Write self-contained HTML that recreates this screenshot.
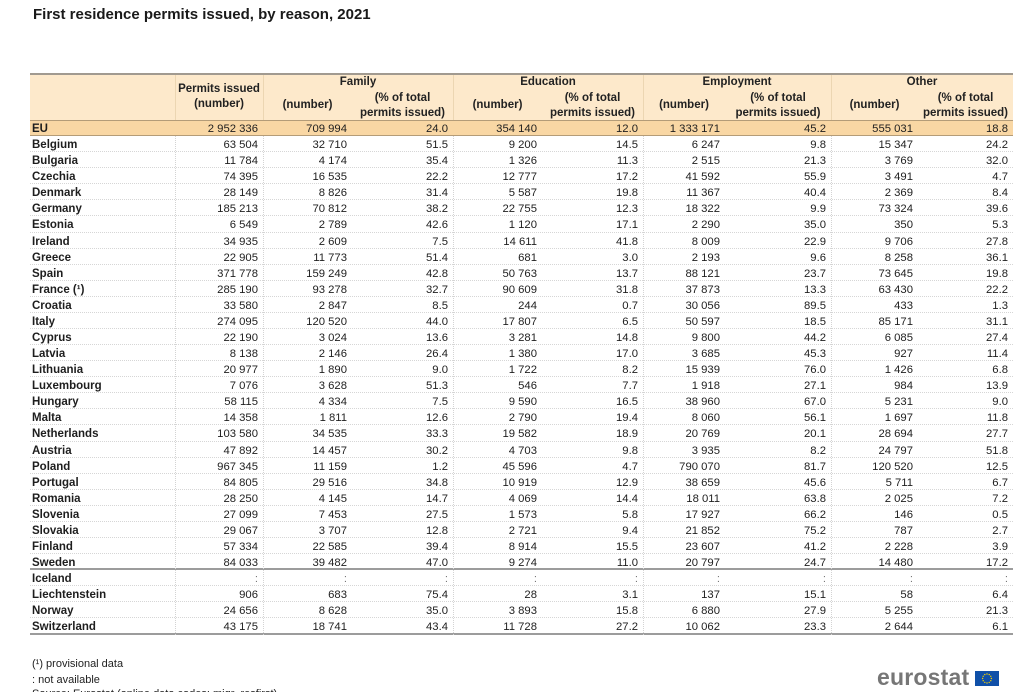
<!DOCTYPE html>
<html><head><meta charset="utf-8">
<style>
*{margin:0;padding:0;box-sizing:border-box}
html,body{width:1024px;height:692px;background:#fff;overflow:hidden;position:relative;font-family:"Liberation Sans",Arial,sans-serif;color:#1e1e1e}
.title{position:absolute;left:33px;top:6px;font-size:15px;font-weight:bold;line-height:18px;color:#1a1a1a}
.hdr{position:absolute;left:30px;top:73px;width:983px;height:47px;background:#fde9cb;border-top:2px solid #a19a90}
.hl{position:absolute;font-size:11.5px;font-weight:bold;text-align:center;white-space:nowrap;color:#222}
.vh{position:absolute;top:75px;height:45px;width:1px;background:#ecd6b2}
.rows{position:absolute;left:30px;top:120px;width:983px}
.r{display:grid;grid-template-columns:145px 88px 89px 101px 89px 101px 82px 106px 87px 95px;height:16.08px;line-height:14px;padding-top:2px;font-size:11.3px;border-bottom:1px dotted #d6d6d6;white-space:nowrap}
.r span{text-align:right;padding-right:5px}
.r span:first-child{text-align:left;padding-left:2px;font-weight:bold;font-size:11.5px}
.eu{background:#f9d7a4;border-top:1.5px solid #b49c78;border-bottom:1.5px solid #b49c78;line-height:13px;padding-top:1.5px}
.sep{border-bottom:2px solid #9c9c9c}
.last{border-bottom:2px solid #9c9c9c}
.na span{color:#777}
.na span:first-child{color:#1e1e1e}
.vb{position:absolute;top:136px;height:499px;width:0;border-left:1px dotted #d3d3d3}
.foot{position:absolute;left:32px;font-size:11px;line-height:14px;color:#222;white-space:nowrap}
.logo{position:absolute;left:877px;top:664px;font-size:23px;font-weight:bold;color:#767676;line-height:26px;letter-spacing:0.2px}
.flag{position:absolute;left:975px;top:671px;width:24px;height:15px;background:#1050a8}
</style></head><body>
<div class="title">First residence permits issued, by reason, 2021</div>

<div class="hdr"></div>
<div class="vh" style="left:175px"></div>
<div class="vh" style="left:263px"></div>
<div class="vh" style="left:453px"></div>
<div class="vh" style="left:643px"></div>
<div class="vh" style="left:831px"></div>

<div class="hl" style="left:175px;width:88px;top:82px;line-height:15px">Permits issued<br>(number)</div>

<div class="hl" style="left:263px;width:190px;top:75px;line-height:14px">Family</div>
<div class="hl" style="left:453px;width:190px;top:75px;line-height:14px">Education</div>
<div class="hl" style="left:643px;width:188px;top:75px;line-height:14px">Employment</div>
<div class="hl" style="left:831px;width:182px;top:75px;line-height:14px">Other</div>

<div class="hl" style="left:263px;width:89px;top:98px;line-height:15px">(number)</div>
<div class="hl" style="left:352px;width:101px;top:90.5px;line-height:15.5px">(% of total<br>permits issued)</div>
<div class="hl" style="left:453px;width:89px;top:98px;line-height:15px">(number)</div>
<div class="hl" style="left:542px;width:101px;top:90.5px;line-height:15.5px">(% of total<br>permits issued)</div>
<div class="hl" style="left:643px;width:82px;top:98px;line-height:15px">(number)</div>
<div class="hl" style="left:725px;width:106px;top:90.5px;line-height:15.5px">(% of total<br>permits issued)</div>
<div class="hl" style="left:831px;width:87px;top:98px;line-height:15px">(number)</div>
<div class="hl" style="left:918px;width:95px;top:90.5px;line-height:15.5px">(% of total<br>permits issued)</div>

<div class="rows">
<div class="r eu"><span>EU</span><span>2&nbsp;952&nbsp;336</span><span>709&nbsp;994</span><span>24.0</span><span>354&nbsp;140</span><span>12.0</span><span>1&nbsp;333&nbsp;171</span><span>45.2</span><span>555&nbsp;031</span><span>18.8</span></div>
<div class="r"><span>Belgium</span><span>63&nbsp;504</span><span>32&nbsp;710</span><span>51.5</span><span>9&nbsp;200</span><span>14.5</span><span>6&nbsp;247</span><span>9.8</span><span>15&nbsp;347</span><span>24.2</span></div>
<div class="r"><span>Bulgaria</span><span>11&nbsp;784</span><span>4&nbsp;174</span><span>35.4</span><span>1&nbsp;326</span><span>11.3</span><span>2&nbsp;515</span><span>21.3</span><span>3&nbsp;769</span><span>32.0</span></div>
<div class="r"><span>Czechia</span><span>74&nbsp;395</span><span>16&nbsp;535</span><span>22.2</span><span>12&nbsp;777</span><span>17.2</span><span>41&nbsp;592</span><span>55.9</span><span>3&nbsp;491</span><span>4.7</span></div>
<div class="r"><span>Denmark</span><span>28&nbsp;149</span><span>8&nbsp;826</span><span>31.4</span><span>5&nbsp;587</span><span>19.8</span><span>11&nbsp;367</span><span>40.4</span><span>2&nbsp;369</span><span>8.4</span></div>
<div class="r"><span>Germany</span><span>185&nbsp;213</span><span>70&nbsp;812</span><span>38.2</span><span>22&nbsp;755</span><span>12.3</span><span>18&nbsp;322</span><span>9.9</span><span>73&nbsp;324</span><span>39.6</span></div>
<div class="r"><span>Estonia</span><span>6&nbsp;549</span><span>2&nbsp;789</span><span>42.6</span><span>1&nbsp;120</span><span>17.1</span><span>2&nbsp;290</span><span>35.0</span><span>350</span><span>5.3</span></div>
<div class="r"><span>Ireland</span><span>34&nbsp;935</span><span>2&nbsp;609</span><span>7.5</span><span>14&nbsp;611</span><span>41.8</span><span>8&nbsp;009</span><span>22.9</span><span>9&nbsp;706</span><span>27.8</span></div>
<div class="r"><span>Greece</span><span>22&nbsp;905</span><span>11&nbsp;773</span><span>51.4</span><span>681</span><span>3.0</span><span>2&nbsp;193</span><span>9.6</span><span>8&nbsp;258</span><span>36.1</span></div>
<div class="r"><span>Spain</span><span>371&nbsp;778</span><span>159&nbsp;249</span><span>42.8</span><span>50&nbsp;763</span><span>13.7</span><span>88&nbsp;121</span><span>23.7</span><span>73&nbsp;645</span><span>19.8</span></div>
<div class="r"><span>France (¹)</span><span>285&nbsp;190</span><span>93&nbsp;278</span><span>32.7</span><span>90&nbsp;609</span><span>31.8</span><span>37&nbsp;873</span><span>13.3</span><span>63&nbsp;430</span><span>22.2</span></div>
<div class="r"><span>Croatia</span><span>33&nbsp;580</span><span>2&nbsp;847</span><span>8.5</span><span>244</span><span>0.7</span><span>30&nbsp;056</span><span>89.5</span><span>433</span><span>1.3</span></div>
<div class="r"><span>Italy</span><span>274&nbsp;095</span><span>120&nbsp;520</span><span>44.0</span><span>17&nbsp;807</span><span>6.5</span><span>50&nbsp;597</span><span>18.5</span><span>85&nbsp;171</span><span>31.1</span></div>
<div class="r"><span>Cyprus</span><span>22&nbsp;190</span><span>3&nbsp;024</span><span>13.6</span><span>3&nbsp;281</span><span>14.8</span><span>9&nbsp;800</span><span>44.2</span><span>6&nbsp;085</span><span>27.4</span></div>
<div class="r"><span>Latvia</span><span>8&nbsp;138</span><span>2&nbsp;146</span><span>26.4</span><span>1&nbsp;380</span><span>17.0</span><span>3&nbsp;685</span><span>45.3</span><span>927</span><span>11.4</span></div>
<div class="r"><span>Lithuania</span><span>20&nbsp;977</span><span>1&nbsp;890</span><span>9.0</span><span>1&nbsp;722</span><span>8.2</span><span>15&nbsp;939</span><span>76.0</span><span>1&nbsp;426</span><span>6.8</span></div>
<div class="r"><span>Luxembourg</span><span>7&nbsp;076</span><span>3&nbsp;628</span><span>51.3</span><span>546</span><span>7.7</span><span>1&nbsp;918</span><span>27.1</span><span>984</span><span>13.9</span></div>
<div class="r"><span>Hungary</span><span>58&nbsp;115</span><span>4&nbsp;334</span><span>7.5</span><span>9&nbsp;590</span><span>16.5</span><span>38&nbsp;960</span><span>67.0</span><span>5&nbsp;231</span><span>9.0</span></div>
<div class="r"><span>Malta</span><span>14&nbsp;358</span><span>1&nbsp;811</span><span>12.6</span><span>2&nbsp;790</span><span>19.4</span><span>8&nbsp;060</span><span>56.1</span><span>1&nbsp;697</span><span>11.8</span></div>
<div class="r"><span>Netherlands</span><span>103&nbsp;580</span><span>34&nbsp;535</span><span>33.3</span><span>19&nbsp;582</span><span>18.9</span><span>20&nbsp;769</span><span>20.1</span><span>28&nbsp;694</span><span>27.7</span></div>
<div class="r"><span>Austria</span><span>47&nbsp;892</span><span>14&nbsp;457</span><span>30.2</span><span>4&nbsp;703</span><span>9.8</span><span>3&nbsp;935</span><span>8.2</span><span>24&nbsp;797</span><span>51.8</span></div>
<div class="r"><span>Poland</span><span>967&nbsp;345</span><span>11&nbsp;159</span><span>1.2</span><span>45&nbsp;596</span><span>4.7</span><span>790&nbsp;070</span><span>81.7</span><span>120&nbsp;520</span><span>12.5</span></div>
<div class="r"><span>Portugal</span><span>84&nbsp;805</span><span>29&nbsp;516</span><span>34.8</span><span>10&nbsp;919</span><span>12.9</span><span>38&nbsp;659</span><span>45.6</span><span>5&nbsp;711</span><span>6.7</span></div>
<div class="r"><span>Romania</span><span>28&nbsp;250</span><span>4&nbsp;145</span><span>14.7</span><span>4&nbsp;069</span><span>14.4</span><span>18&nbsp;011</span><span>63.8</span><span>2&nbsp;025</span><span>7.2</span></div>
<div class="r"><span>Slovenia</span><span>27&nbsp;099</span><span>7&nbsp;453</span><span>27.5</span><span>1&nbsp;573</span><span>5.8</span><span>17&nbsp;927</span><span>66.2</span><span>146</span><span>0.5</span></div>
<div class="r"><span>Slovakia</span><span>29&nbsp;067</span><span>3&nbsp;707</span><span>12.8</span><span>2&nbsp;721</span><span>9.4</span><span>21&nbsp;852</span><span>75.2</span><span>787</span><span>2.7</span></div>
<div class="r"><span>Finland</span><span>57&nbsp;334</span><span>22&nbsp;585</span><span>39.4</span><span>8&nbsp;914</span><span>15.5</span><span>23&nbsp;607</span><span>41.2</span><span>2&nbsp;228</span><span>3.9</span></div>
<div class="r sep"><span>Sweden</span><span>84&nbsp;033</span><span>39&nbsp;482</span><span>47.0</span><span>9&nbsp;274</span><span>11.0</span><span>20&nbsp;797</span><span>24.7</span><span>14&nbsp;480</span><span>17.2</span></div>
<div class="r na"><span>Iceland</span><span>:</span><span>:</span><span>:</span><span>:</span><span>:</span><span>:</span><span>:</span><span>:</span><span>:</span></div>
<div class="r"><span>Liechtenstein</span><span>906</span><span>683</span><span>75.4</span><span>28</span><span>3.1</span><span>137</span><span>15.1</span><span>58</span><span>6.4</span></div>
<div class="r"><span>Norway</span><span>24&nbsp;656</span><span>8&nbsp;628</span><span>35.0</span><span>3&nbsp;893</span><span>15.8</span><span>6&nbsp;880</span><span>27.9</span><span>5&nbsp;255</span><span>21.3</span></div>
<div class="r last"><span>Switzerland</span><span>43&nbsp;175</span><span>18&nbsp;741</span><span>43.4</span><span>11&nbsp;728</span><span>27.2</span><span>10&nbsp;062</span><span>23.3</span><span>2&nbsp;644</span><span>6.1</span></div>
</div>

<div class="vb" style="left:175px"></div>
<div class="vb" style="left:263px"></div>
<div class="vb" style="left:453px"></div>
<div class="vb" style="left:643px"></div>
<div class="vb" style="left:831px"></div>

<div class="foot" style="top:657px">(¹) provisional data</div>
<div class="foot" style="top:673px">: not available</div>
<div class="foot" style="top:687px">Source: Eurostat (online data codes: migr_resfirst)</div>

<div class="logo">eurostat</div>
<div class="flag">
<svg width="24" height="15" viewBox="0 0 24 15">
<g fill="#f5d000">
<circle cx="12" cy="3" r="0.7"/><circle cx="14.2" cy="3.6" r="0.7"/><circle cx="15.8" cy="5.3" r="0.7"/><circle cx="16.4" cy="7.5" r="0.7"/><circle cx="15.8" cy="9.7" r="0.7"/><circle cx="14.2" cy="11.4" r="0.7"/><circle cx="12" cy="12" r="0.7"/><circle cx="9.8" cy="11.4" r="0.7"/><circle cx="8.2" cy="9.7" r="0.7"/><circle cx="7.6" cy="7.5" r="0.7"/><circle cx="8.2" cy="5.3" r="0.7"/><circle cx="9.8" cy="3.6" r="0.7"/>
</g></svg>
</div>
</body></html>
